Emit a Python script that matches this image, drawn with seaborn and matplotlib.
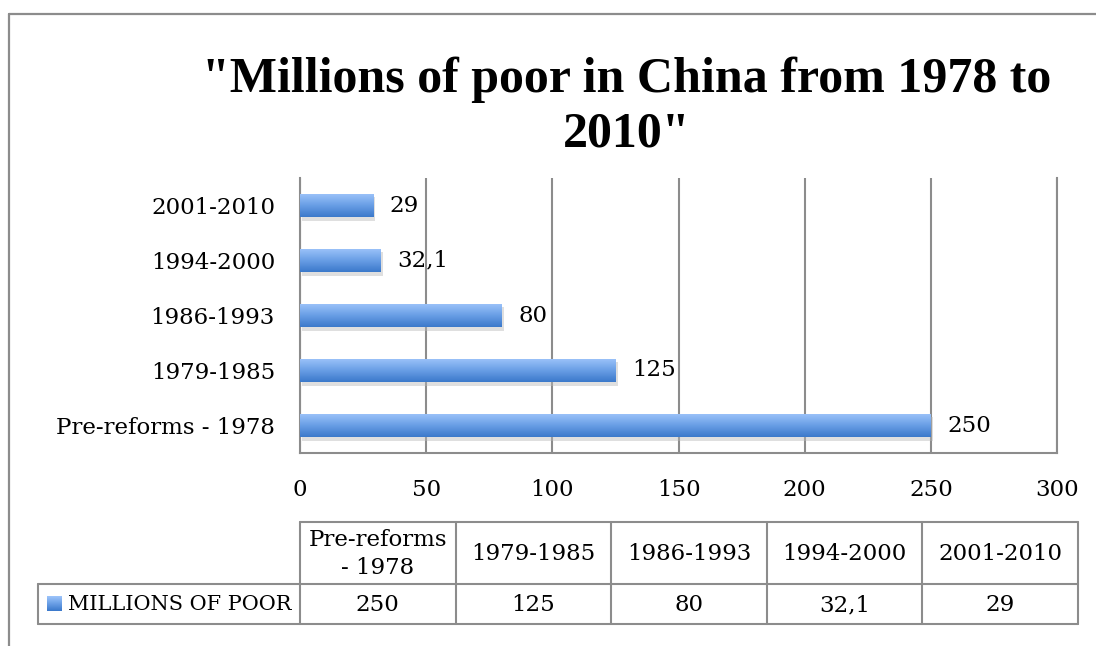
import numpy as np
import pandas as pd
import matplotlib
matplotlib.use("Agg")
import matplotlib.pyplot as plt
import matplotlib.patheffects as pe
from matplotlib.colors import LinearSegmentedColormap
import seaborn as sns

# ---- data ----
periods = ["Pre-reforms - 1978", "1979-1985", "1986-1993", "1994-2000", "2001-2010"]
header_labels = ["Pre-reforms\n- 1978", "1979-1985", "1986-1993", "1994-2000", "2001-2010"]
millions_poor = [250, 125, 80, 32.1, 29]
series_name = "MILLIONS OF POOR"
x_ticks = [0, 50, 100, 150, 200, 250, 300]
title = '"Millions of poor in China from 1978 to\n2010"'

def fmt(v):
    return f"{v:g}".replace(".", ",")

sns.set_theme(style="white")
SERIF = ["DejaVu Serif"]
plt.rcParams["font.family"] = SERIF
plt.rcParams["text.color"] = "black"
plt.rcParams["xtick.color"] = "black"
plt.rcParams["ytick.color"] = "black"

W, H = 1096, 646
fig = plt.figure(figsize=(W / 100, H / 100), dpi=100)
fig.patch.set_facecolor("white")

GRAY = "#8c8c8c"
FS = 16.5
# light at top -> dark at bottom
grad_cmap = LinearSegmentedColormap.from_list("g", ["#9dc4fa", "#6a9fe6", "#3b79cb"])

# overlay axes in pixel coordinates for frame and table
tax = fig.add_axes([0, 0, 1, 1], zorder=0)
tax.set_xlim(0, W)
tax.set_ylim(H, 0)
tax.axis("off")

# ---- bar chart ----
ax = fig.add_axes([300 / W, (H - 453) / H, 757 / W, 275 / H], zorder=2)
ax.patch.set_alpha(0)
df = pd.DataFrame({"period": periods, "value": millions_poor})
order = periods[::-1]
sns.barplot(data=df, x="value", y="period", order=order, orient="h",
            width=0.42, color="#5b93e0", saturation=1, ax=ax, errorbar=None)

bars = list(ax.patches)
for p in bars:
    p.set_path_effects([pe.SimplePatchShadow(offset=(1.5, -2.5), shadow_rgbFace="#b8b8b8", alpha=0.45),
                        pe.Normal()])
    p.set_edgecolor("none")
    x0, y0 = p.get_x(), p.get_y()
    w, h = p.get_width(), p.get_height()
    grad = np.linspace(0, 1, 64).reshape(-1, 1)
    # y axis is inverted: y0 is the top edge of the bar
    im = ax.imshow(grad, extent=[x0, x0 + w, y0 + h, y0], aspect="auto",
                   cmap=grad_cmap, origin="upper", zorder=3, interpolation="bilinear")
    im.set_clip_path(p)

ax.bar_label(ax.containers[0], labels=[fmt(v) for v in df.set_index("period").loc[order, "value"]],
             padding=12, fontsize=FS, color="black")

ax.set_xlim(0, 300)
ax.set_ylim(4.5, -0.5)
ax.set_aspect("auto")
ax.set_xticks(x_ticks)
ax.xaxis.grid(True, color=GRAY, lw=1.5)
ax.yaxis.grid(False)
ax.set_axisbelow(True)
for s in ["left", "bottom", "right"]:
    ax.spines[s].set_visible(True)
    ax.spines[s].set_color(GRAY)
    ax.spines[s].set_linewidth(1.5)
ax.spines["top"].set_visible(False)
ax.tick_params(axis="both", length=0, labelsize=FS, colors="black")
ax.tick_params(axis="x", pad=19)
ax.tick_params(axis="y", pad=18)
ax.set_xlabel("")
ax.set_ylabel("")

# ---- title ----
fig.text(627 / W, 1 - 107 / H, title, ha="center", va="center", fontsize=36,
         fontweight="bold", family=["Liberation Serif", "DejaVu Serif"], linespacing=1.22,
         color="black")

# ---- outer frame ----
tax.plot([9, W], [14, 14], color=GRAY, lw=1.6)
tax.plot([9, 9], [14, H], color=GRAY, lw=1.6)

# ---- data table ----
left_lab, x_start, x_end = 38, 300, 1078
y_top, y_mid, y_bot = 522, 584, 624
ncol = len(periods)
cw = (x_end - x_start) / ncol
tlw = 1.5
tax.plot([x_start, x_end], [y_top, y_top], color=GRAY, lw=tlw)
tax.plot([left_lab, x_end], [y_mid, y_mid], color=GRAY, lw=tlw)
tax.plot([left_lab, x_end], [y_bot, y_bot], color=GRAY, lw=tlw)
tax.plot([left_lab, left_lab], [y_mid, y_bot], color=GRAY, lw=tlw)
for i in range(ncol + 1):
    xx = x_start + i * cw
    tax.plot([xx, xx], [y_top, y_bot], color=GRAY, lw=tlw)
for i in range(ncol):
    cx = x_start + (i + 0.5) * cw
    tax.text(cx, (y_top + y_mid) / 2 + 1, header_labels[i], ha="center", va="center",
             fontsize=FS, linespacing=1.3)
    tax.text(cx, (y_mid + y_bot) / 2 + 1, fmt(millions_poor[i]), ha="center", va="center",
             fontsize=FS)
# legend key
grad = np.linspace(0, 1, 32).reshape(-1, 1)
tax.imshow(grad, extent=[47, 62, 611, 596], aspect="auto", cmap=grad_cmap, origin="upper",
           interpolation="bilinear")
tax.set_xlim(0, W)
tax.set_ylim(H, 0)
tax.text(68, (y_mid + y_bot) / 2 + 1, series_name, ha="left", va="center", fontsize=15)

fig.savefig("out.png", dpi=100, facecolor="white")
